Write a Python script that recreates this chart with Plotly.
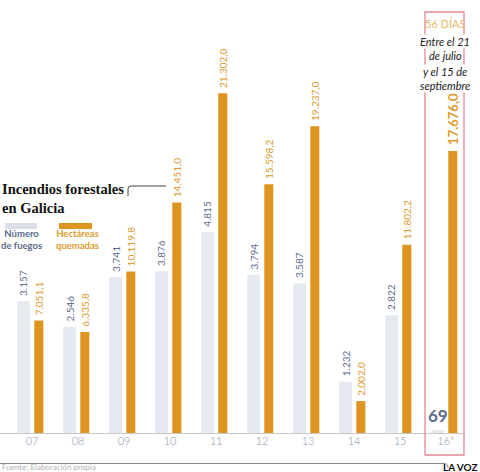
import plotly.graph_objects as go

# ----------------------------
# Data (La Voz de Galicia: incendios forestales en Galicia)
# ----------------------------
years = ["07", "08", "09", "10", "11", "12", "13", "14", "15", "16*"]
fuegos = [3157, 2546, 3741, 3876, 4815, 3794, 3587, 1232, 2822, 69]
hectareas = [7051.1, 6335.8, 10119.8, 14451.0, 21302.0, 15598.2, 19237.0, 2002.0, 11802.2, 17676.0]

GREY_BAR = "#e5e9f0"
ORANGE = "#de951f"
ORANGE_TXT = "#e0992c"
SLATE = "#5b6b8c"
TICK = "#8797b0"
RED = "#e38996"

W, H = 480, 472
BASE = 433  # pixel row of the baseline


def fx(px):
    return px / W


def fy(py):
    return (BASE - py) / BASE


def es_int(v):
    return f"{v:,}".replace(",", ".")


def es_dec(v):
    s = f"{v:,.1f}"
    return s.replace(",", "X").replace(".", ",").replace("X", ".")


xs = list(range(len(years)))

fig = go.Figure()
fig.add_trace(go.Bar(
    x=xs, y=fuegos, offset=-0.32, width=0.276,
    marker=dict(color=GREY_BAR, line_width=0), yaxis="y", hoverinfo="y"
))
fig.add_trace(go.Bar(
    x=xs, y=hectareas, offset=0.05, width=0.196,
    marker=dict(color=ORANGE, line_width=0), yaxis="y2", hoverinfo="y"
))

ann = []
# value labels
for i, (f, h) in enumerate(zip(fuegos, hectareas)):
    last = i == len(years) - 1
    if last:
        ann.append(dict(x=i - 0.182, y=f, xref="x", yref="y", text="<b>69</b>",
                        showarrow=False, xanchor="center", yanchor="bottom", yshift=2,
                        font=dict(family="Lato", size=17, color=SLATE)))
        ann.append(dict(x=i + 0.148, y=h, xref="x", yref="y2", text="<b>" + es_dec(h) + "</b>",
                        showarrow=False, xanchor="center", yanchor="bottom", yshift=4, textangle=-90,
                        font=dict(family="Lato", size=13, color=ORANGE_TXT)))
    else:
        ann.append(dict(x=i - 0.182, y=f, xref="x", yref="y", text=es_int(f),
                        showarrow=False, xanchor="center", yanchor="bottom", yshift=3, textangle=-90,
                        font=dict(family="Lato", size=10, color=SLATE)))
        ann.append(dict(x=i + 0.148, y=h, xref="x", yref="y2", text=es_dec(h),
                        showarrow=False, xanchor="center", yanchor="bottom", yshift=3, textangle=-90,
                        font=dict(family="Lato", size=10, color=ORANGE_TXT)))

# title
ann.append(dict(x=0, y=fy(199), xref="paper", yref="paper", xanchor="left", yanchor="middle",
                align="left", text="Incendios forestales<br>en Galicia", showarrow=False,
                font=dict(family="Liberation Serif", size=14.5, color="#111111", weight=700)))
# legend texts
ann.append(dict(x=fx(21), y=fy(240), xref="paper", yref="paper", xanchor="center",
                yanchor="middle", text="Número<br>de fuegos", showarrow=False,
                font=dict(family="Lato", size=9.5, color=SLATE, weight=700)))
ann.append(dict(x=fx(77), y=fy(240), xref="paper", yref="paper", xanchor="center",
                yanchor="middle", text="Hectáreas<br>quemadas", showarrow=False,
                font=dict(family="Lato", size=9.5, color=ORANGE_TXT, weight=700)))

# red box texts
ann.append(dict(x=fx(445), y=fy(24), xref="paper", yref="paper", text="56 DÍAS",
                xanchor="center", yanchor="middle",
                showarrow=False, font=dict(family="Lato", size=11, color="#ebb86c")))
box_lines = ["Entre el 21", "de julio", "y el 15 de", "septiembre"]
for k, line in enumerate(box_lines):
    ann.append(dict(x=fx(445), y=fy(41 + k * 15), xref="paper", yref="paper", text="<i>" + line + "</i>",
                    xanchor="center", yanchor="middle",
                    showarrow=False, bgcolor="white", borderpad=0,
                    font=dict(family="Lato", size=11, color="#222222")))

# footer
ann.append(dict(x=0, y=fy(467.5), xref="paper", yref="paper", xanchor="left", yanchor="middle",
                text="Fuente: Elaboración propia", showarrow=False,
                font=dict(family="Lato", size=8, color="#b0b0b0")))
ann.append(dict(x=1, y=fy(466.5), xref="paper", yref="paper", xanchor="right", yanchor="middle",
                text="<b>LA VOZ</b>", showarrow=False,
                font=dict(family="Lato", size=10, color="#111111")))

shapes = [
    # baseline
    dict(type="line", xref="paper", yref="paper", x0=0, x1=fx(465), y0=fy(433.5), y1=fy(433.5),
         line=dict(color="#c8c8c8", width=1)),
    # legend swatches
    dict(type="rect", xref="paper", yref="paper", x0=fx(5), x1=fx(37), y0=fy(223), y1=fy(229),
         fillcolor="#d9dee7", line_width=0),
    dict(type="rect", xref="paper", yref="paper", x0=fx(59), x1=fx(92), y0=fy(223), y1=fy(229),
         fillcolor=ORANGE, line_width=0),
    # title bracket
    dict(type="path", xref="paper", yref="paper",
         path=f"M {fx(128)},{fy(196)} L {fx(128)},{fy(189)} Q {fx(128)},{fy(186)} {fx(131)},{fy(186)} L {fx(166)},{fy(186)}",
         line=dict(color="#444444", width=1)),
    # red box around 2016
    dict(type="rect", xref="paper", yref="paper", x0=fx(425), x1=fx(464), y0=fy(12), y1=fy(455),
         line=dict(color=RED, width=1.3)),
    # footer line
    dict(type="path", xref="paper", yref="paper",
         path=f"M {fx(0)},{fy(463.5)} L {fx(444)},{fy(463.5)} Q {fx(448)},{fy(463.5)} {fx(448)},{fy(468)}",
         line=dict(color="#888888", width=1)),
]

fig.update_layout(
    width=W, height=H,
    margin=dict(l=0, r=0, t=0, b=H - BASE),
    paper_bgcolor="white", plot_bgcolor="white",
    barmode="overlay", showlegend=False,
    xaxis=dict(range=[-32 / 46, 448 / 46], tickmode="array", tickvals=xs, ticktext=years,
               showgrid=False, zeroline=False, showline=False, ticks="",
               tickfont=dict(family="Lato", size=11, color=TICK, weight=300), fixedrange=True),
    yaxis=dict(range=[0, BASE / 0.0417], visible=False, fixedrange=True),
    yaxis2=dict(range=[0, BASE / 0.01595], visible=False, overlaying="y", fixedrange=True),
    annotations=ann,
    shapes=shapes,
)

fig.write_html("out.html", config={"displayModeBar": False},
               post_script="document.body.style.margin='0';")
